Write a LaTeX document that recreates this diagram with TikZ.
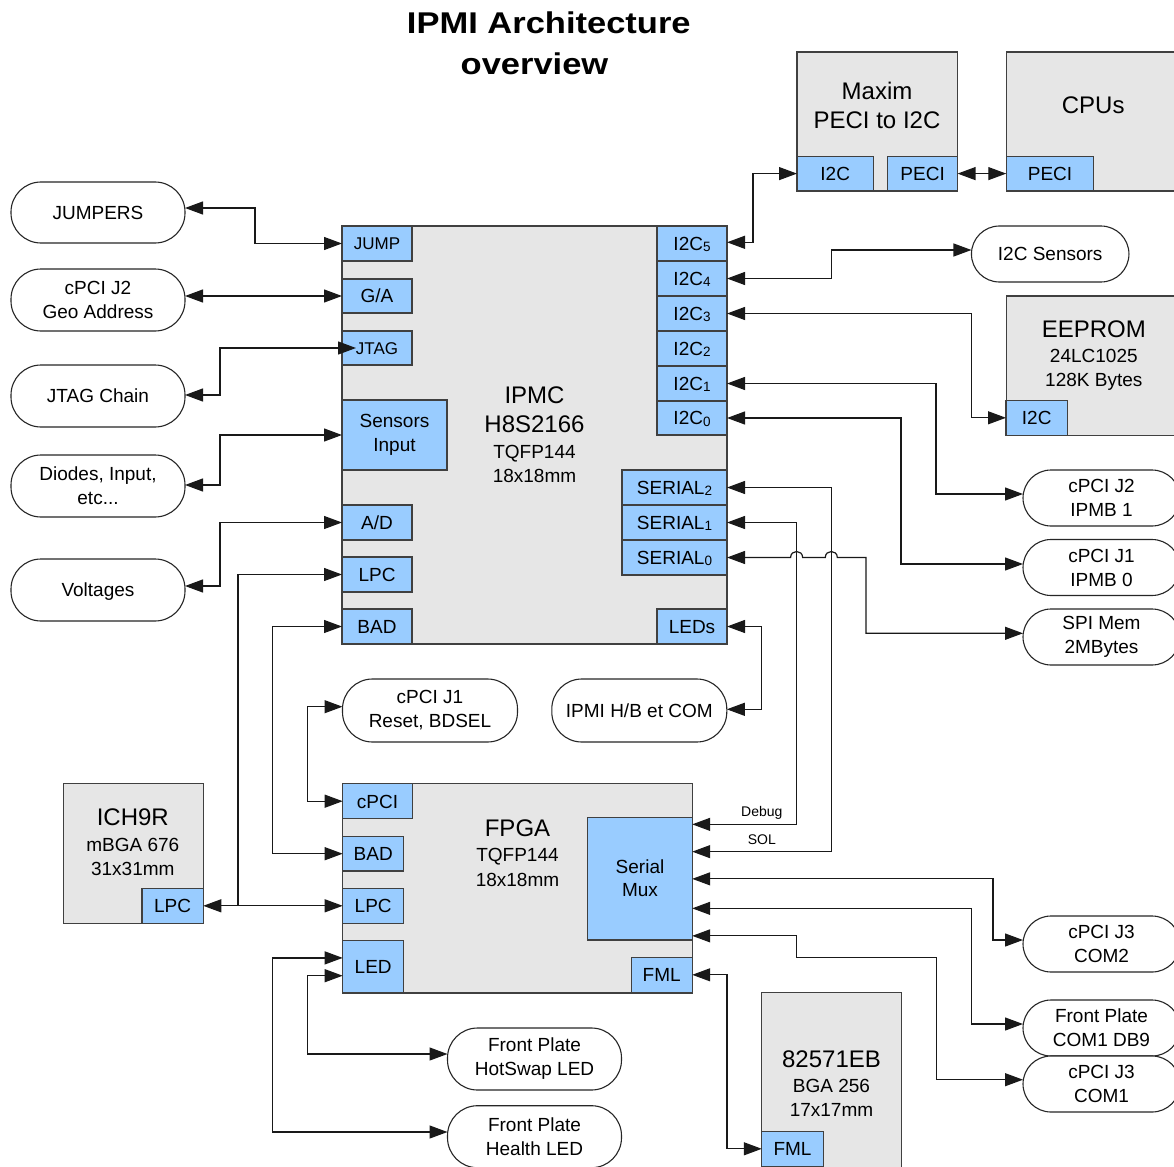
\documentclass[tikz,border=0pt]{standalone}
\usepackage{fontspec}
\setmainfont{Liberation Sans}
\newfontfamily\titlefont[FakeStretch=1.15]{Liberation Sans}
\usetikzlibrary{arrows.meta}

\definecolor{portblue}{HTML}{99CCFF}
\definecolor{chipgray}{HTML}{E6E6E6}
\definecolor{edgegray}{HTML}{404040}

\newcommand\fnorm{\fontsize{19}{24}\selectfont}
\newcommand\fport{\fontsize{17}{21}\selectfont}
\newcommand\fbig{\fontsize{24}{29}\selectfont}
\newcommand\fsmall{\fontsize{14}{17}\selectfont}
\newcommand\subnum[1]{\raisebox{-1.5pt}{\fontsize{13.5}{13.5}\selectfont #1}}

\begin{document}
\begin{tikzpicture}[x=1pt, y=-1pt,
  chip/.style={draw=edgegray, fill=chipgray, line width=1.2pt, inner sep=0pt, outer sep=0pt},
  portbase/.style={draw=edgegray, fill=portblue, line width=1.2pt, inner sep=0pt, outer sep=0pt,
    font=\fnorm, align=center},
  port/.style={portbase, text height=13.6pt, text depth=0pt},
  small/.style={font=\fport, text height=12.2pt},
  term/.style={draw=black!85, fill=white, line width=1.1pt, rounded corners=28pt,
    inner sep=0pt, outer sep=0pt, font=\fnorm, align=center},
  tall/.style={rounded corners=30pt},
  one/.style={text height=13.6pt, text depth=0pt},
  wh/.style 2 args={minimum width=#1pt, minimum height=#2pt},
  link/.style={draw=black!90, line width=1.2pt,
    arrows={Triangle[length=18pt,width=13pt]-Triangle[length=18pt,width=13pt]}},
  lbl/.style={anchor=base, inner sep=0pt, align=center}
]
\useasboundingbox (0,0) rectangle (1174,1166);
\clip (0,0) rectangle (1174,1166);

% ---------- title ----------
\node[lbl, font=\titlefont\bfseries\fontsize{30}{36}\selectfont] (title1) at (548.8,34) {IPMI Architecture};
\node[lbl, font=\titlefont\bfseries\fontsize{30}{36}\selectfont] (title2) at (534.5,75) {overview};

% ---------- IPMC controller ----------
\node[chip, wh={385}{418}] (ipmc) at (534.5,435) {};
\node[port, small, wh={70}{35}] (jump) at (377,243.5) {JUMP};
\node[port, wh={70}{34}] (ga) at (377,296) {G/A};
\node[port, small, wh={70}{34}] (jtag) at (377,348) {JTAG};
\node[portbase, wh={105}{70}] (sens) at (394.5,435) {Sensors\\Input};
\node[port, wh={70}{35}] (ad) at (377,522.5) {A/D};
\node[port, wh={70}{35}] (lpc) at (377,574.5) {LPC};
\node[port, wh={70}{35}] (bad) at (377,626.5) {BAD};

\node[port, wh={70}{35}] (i2c5) at (692,243.5) {I2C\subnum{5}};
\node[port, wh={70}{35}] (i2c4) at (692,278.5) {I2C\subnum{4}};
\node[port, wh={70}{35}] (i2c3) at (692,313.5) {I2C\subnum{3}};
\node[port, wh={70}{35}] (i2c2) at (692,348.5) {I2C\subnum{2}};
\node[port, wh={70}{35}] (i2c1) at (692,383.5) {I2C\subnum{1}};
\node[port, wh={70}{34}] (i2c0) at (692,418) {I2C\subnum{0}};
\node[port, wh={105}{35}] (ser2) at (674.5,487.5) {SERIAL\subnum{2}};
\node[port, wh={105}{35}] (ser1) at (674.5,522.5) {SERIAL\subnum{1}};
\node[port, wh={105}{35}] (ser0) at (674.5,557.5) {SERIAL\subnum{0}};
\node[port, wh={70}{35}] (leds) at (692,626.5) {LEDs};

\node[lbl, font=\fbig] (ipmc-name) at (534.5,403.5) {IPMC};
\node[lbl, font=\fbig] (ipmc-part) at (534.5,432.7) {H8S2166};
\node[lbl, font=\fnorm] (ipmc-pkg) at (534.5,458.3) {TQFP144};
\node[lbl, font=\fnorm] (ipmc-dim) at (534.5,482.7) {18x18mm};

% ---------- PECI bridge and CPUs ----------
\node[chip, wh={160.6}{139}] (maxim) at (877.3,121.5) {};
\node[port, wh={76.4}{34.7}] (mx-i2c) at (835.2,173.6) {I2C};
\node[port, wh={69.9}{34.7}] (mx-peci) at (922.6,173.6) {PECI};
\node[lbl, font=\fbig] (maxim-name) at (877,100) {Maxim};
\node[lbl, font=\fbig] (maxim-desc) at (877,128.3) {PECI to I2C};

\node[chip, wh={174}{139}] (cpus) at (1093.3,121.5) {};
\node[port, wh={87.5}{34.7}] (cpu-peci) at (1050,173.6) {PECI};
\node[lbl, font=\fbig] (cpus-name) at (1093.2,114) {CPUs};

% ---------- EEPROM ----------
\node[chip, wh={174}{139.3}] (eeprom) at (1093.3,365.65) {};
\node[port, wh={61.4}{35}] (ee-i2c) at (1036.7,417.8) {I2C};
\node[lbl, font=\fbig] (ee-name) at (1093.8,337.7) {EEPROM};
\node[lbl, font=\fnorm] (ee-part) at (1093.8,362.7) {24LC1025};
\node[lbl, font=\fnorm] (ee-size) at (1093.8,386.7) {128K Bytes};

% ---------- ICH9R ----------
\node[chip, wh={140}{139.6}] (ich) at (133.3,853.5) {};
\node[port, wh={61.3}{35}] (ich-lpc) at (172.6,905.8) {LPC};
\node[lbl, font=\fbig] (ich-name) at (132.8,825.7) {ICH9R};
\node[lbl, font=\fnorm] (ich-pkg) at (132.8,851) {mBGA 676};
\node[lbl, font=\fnorm] (ich-dim) at (132.8,875) {31x31mm};

% ---------- FPGA ----------
\node[chip, wh={349.5}{209.3}] (fpga) at (517.45,888.35) {};
\node[port, wh={69.6}{35}] (fpga-cpci) at (377.5,801.2) {cPCI};
\node[port, wh={61}{34.7}] (fpga-bad) at (373.2,853.7) {BAD};
\node[port, wh={61}{35}] (fpga-lpc) at (373.2,905.8) {LPC};
\node[port, wh={61}{52.3}] (fpga-led) at (373.2,966.9) {LED};
\node[portbase, wh={104.9}{122.3}] (mux) at (639.75,878.85) {};
\node[port, wh={61.1}{35}] (fpga-fml) at (661.65,974.8) {FML};
\node[lbl, font=\fontsize{19}{23.4}\selectfont] (mux-text) at (640,896.7) {Serial\\Mux};
\node[lbl, font=\fbig] (fpga-name) at (517.5,836.7) {FPGA};
\node[lbl, font=\fnorm] (fpga-pkg) at (517.5,861.7) {TQFP144};
\node[lbl, font=\fnorm] (fpga-dim) at (517.5,886) {18x18mm};

% ---------- 82571EB ----------
\node[chip, wh={139.7}{180}] (nic) at (831.65,1082.7) {};
\node[port, wh={61.5}{35}] (nic-fml) at (792.55,1148.8) {FML};
\node[lbl, font=\fbig] (nic-name) at (831.5,1067.3) {82571EB};
\node[lbl, font=\fnorm] (nic-pkg) at (831.5,1092.3) {BGA 256};
\node[lbl, font=\fnorm] (nic-dim) at (831.5,1116) {17x17mm};

% ---------- external connections ----------
\node[term, tall, one, wh={174}{61}] (jumpers) at (98,212.5) {JUMPERS};
\node[term, tall, wh={174}{62}] (geo) at (98,300) {cPCI J2\\Geo Address};
\node[term, tall, one, wh={174}{62}] (jtagchain) at (98,396) {JTAG Chain};
\node[term, tall, wh={174}{62}] (diodes) at (98,486) {Diodes, Input,\\etc...};
\node[term, tall, one, wh={174}{62}] (volts) at (98,590) {Voltages};
\node[term, tall, wh={175}{63}] (cpcireset) at (430,710.5) {cPCI J1\\Reset, BDSEL};
\node[term, tall, one, wh={175}{63}] (ipmihb) at (639.3,710.5) {IPMI H/B et COM};
\node[term, tall, wh={174}{62}] (hotswap) at (534.5,1059) {Front Plate\\HotSwap LED};
\node[term, tall, wh={174}{62}] (health) at (534.5,1136.7) {Front Plate\\Health LED};
\node[term, one, wh={157.5}{56}] (i2csens) at (1050.2,254) {I2C Sensors};
\node[term, wh={157}{56}] (ipmb1) at (1101.5,498) {cPCI J2\\IPMB 1};
\node[term, wh={157}{56}] (ipmb0) at (1101.5,567.5) {cPCI J1\\IPMB 0};
\node[term, wh={157}{56}] (spimem) at (1101.5,637) {SPI Mem\\2MBytes};
\node[term, wh={157}{56}] (com2) at (1101.5,944) {cPCI J3\\COM2};
\node[term, wh={157}{56}] (db9) at (1101.5,1028) {Front Plate\\COM1 DB9};
\node[term, wh={157}{56}] (com1) at (1101.5,1084) {cPCI J3\\COM1};

% ---------- connectors, left side ----------
\draw[link] ([yshift=4.5pt]jumpers.east) -- (255,208) |- (jump.west);
\draw[link] ([yshift=4pt]geo.east) -- (ga.west);
\draw[link, shorten >=-14pt] ([yshift=1pt]jtagchain.east) -- (220,395) |- (jtag.west);
\draw[link] ([yshift=1pt]diodes.east) -- (220,485) |- (sens.west);
\draw[link] ([yshift=4pt]volts.east) -- (220,586) |- (ad.west);

\coordinate (lpc-tap) at (238,905.8);
\draw[link] (ich-lpc.east) -- (fpga-lpc.west);
\draw[link, arrows={-Triangle[length=18pt,width=13pt]}] (lpc-tap) |- (lpc.west);
\draw[link] (bad.west) -- (272.8,626.5) |- (fpga-bad.west);
\draw[link] ([yshift=3.8pt]cpcireset.west) -- (307.5,706.7) |- (fpga-cpci.west);
\draw[link] ([yshift=9pt]fpga-led.west) -- (272.8,957.9) |- ([yshift=4.7pt]health.west);
\draw[link] ([yshift=-8.8pt]fpga-led.west) -- (307.5,975.7) |- ([yshift=5pt]hotswap.west);
\draw[link] (leds.east) -- (761.8,626.5) |- ([yshift=1.2pt]ipmihb.east);

% ---------- connectors, right side ----------
\draw[link] ([yshift=1.2pt]i2c5.east) -- (753,242.3) |- (mx-i2c.west);
\draw[link] (mx-peci.east) -- (cpu-peci.west);
\draw[link] (i2c4.east) -- (831.3,278.5) |- ([yshift=4pt]i2csens.west);
\draw[link] (i2c3.east) -- (971.5,313.5) |- (ee-i2c.west);
\draw[link] (i2c1.east) -- (936,383.5) |- ([yshift=4pt]ipmb1.west);
\draw[link] (i2c0.east) -- (901,418) |- ([yshift=3.5pt]ipmb0.west);
\draw[link] (ser2.east) -- (831.3,487.5) |- ([yshift=27.2pt]mux.east);
\draw[link] (ser1.east) -- (796.6,522.5) |- ([yshift=54.5pt]mux.east);
\draw[link] (ser0.east) -- (790.6,557.5)
  .. controls (790.6,549.5) and (802.6,549.5) .. (802.6,557.5) -- (825.3,557.5)
  .. controls (825.3,549.5) and (837.3,549.5) .. (837.3,557.5) -- (866,557.5)
  |- ([yshift=3.7pt]spimem.west);
\node[lbl, font=\fsmall] (debug-lbl) at (761.8,816.7) {Debug};
\node[lbl, font=\fsmall] (sol-lbl) at (761.8,844.3) {SOL};

\draw[link] (mux.east) -- (993,878.85) |- ([yshift=4pt]com2.west);
\draw[link] ([yshift=-29.5pt]mux.east) -- (971.6,908.35) |- ([yshift=4pt]db9.west);
\draw[link] ([yshift=-57pt]mux.east) -- (796.6,935.85) -- (796.6,957.7) -- (936.4,957.7)
  |- ([yshift=4.3pt]com1.west);
\draw[link] (fpga-fml.east) -- (727,974.8) |- (nic-fml.west);
\end{tikzpicture}
\end{document}
